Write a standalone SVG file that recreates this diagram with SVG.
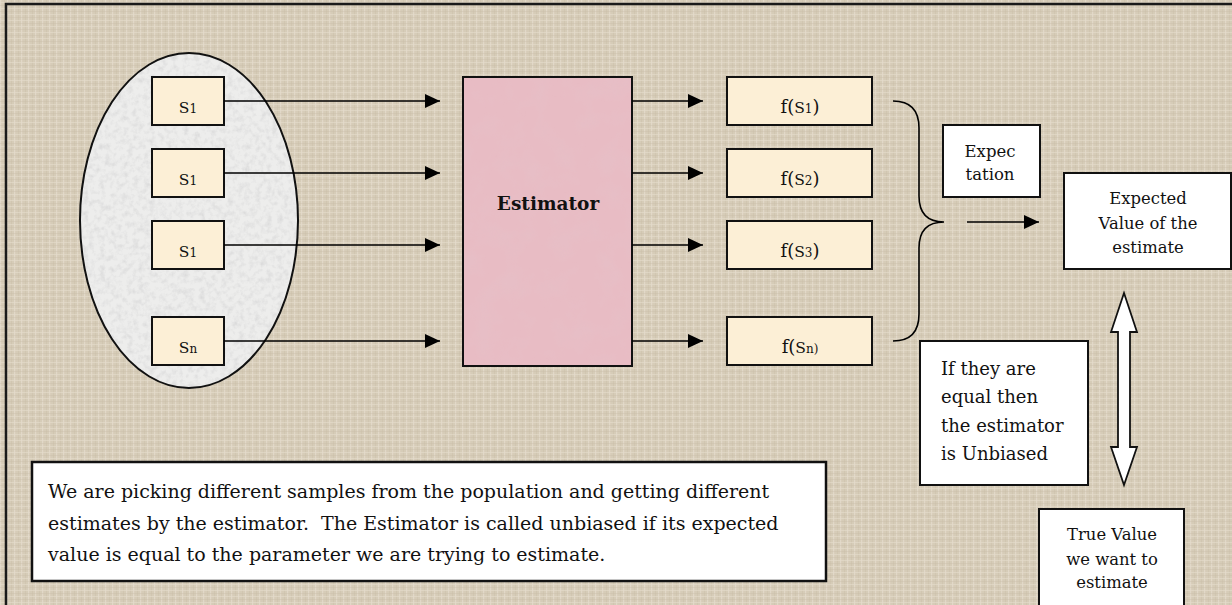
<svg xmlns="http://www.w3.org/2000/svg" width="1232" height="605" viewBox="0 0 1232 605">
  <defs>
    <!-- woven canvas texture for the page -->
    <pattern id="canvas" width="7" height="6" patternUnits="userSpaceOnUse">
      <rect width="7" height="6" fill="#D6CCB8"/>
      <rect x="0" y="0" width="1.2" height="6" fill="#E6DECF" opacity="0.7"/>
      <rect x="4" y="0" width="0.8" height="6" fill="#C9BEA8" opacity="0.5"/>
      <rect x="0" y="2" width="7" height="1" fill="#E4DCCB" opacity="0.6"/>
      <rect x="0" y="5" width="7" height="0.8" fill="#C8BDA6" opacity="0.45"/>
    </pattern>
    <!-- speckled granite for the population -->
    <filter id="granite" x="0" y="0" width="100%" height="100%">
      <feTurbulence type="fractalNoise" baseFrequency="0.18" numOctaves="3" seed="4" result="n"/>
      <feColorMatrix in="n" type="matrix" values="0 0 0 0 0.55  0 0 0 0 0.55  0 0 0 0 0.56  0.9 0 0 0 -0.38" result="s"/>
      <feComposite in="s" in2="SourceGraphic" operator="in"/>
    </filter>
    <!-- mottled pink paper for the estimator -->
    <filter id="mottle" x="0" y="0" width="100%" height="100%">
      <feTurbulence type="fractalNoise" baseFrequency="0.04" numOctaves="3" seed="9" result="n"/>
      <feColorMatrix in="n" type="matrix" values="0 0 0 0 0.78  0 0 0 0 0.55  0 0 0 0 0.6  0.7 0 0 0 -0.3" result="s"/>
      <feComposite in="s" in2="SourceGraphic" operator="in"/>
    </filter>
    <marker id="arrow" markerUnits="userSpaceOnUse" markerWidth="15" markerHeight="14" refX="15" refY="7" orient="auto">
      <path d="M0,0 L15,7 L0,14 Z" fill="#000"/>
    </marker>
    <style>
      .box { stroke: #111; stroke-width: 2; }
      .cream { fill: #FCEFD6; }
      .white { fill: #FFFFFF; }
      .serif { font-family: "DejaVu Serif", "Liberation Serif", serif; fill: #111; }
      .lbl { font-size: 15.5px; }
      .sub { font-size: 12px; }
      .fn { font-size: 18px; }
      .note { font-size: 16.5px; }
      .link { stroke: #000; stroke-width: 1.6; fill: none; }
    </style>
  </defs>

  <!-- page -->
  <rect width="1232" height="605" fill="url(#canvas)"/>
  <rect x="6" y="4" width="1240" height="620" fill="none" stroke="#1a1a1a" stroke-width="2.5"/>

  <!-- population of samples -->
  <g id="population">
    <ellipse cx="189" cy="220.5" rx="109" ry="167.5" fill="#EDEDEC"/>
    <ellipse cx="189" cy="220.5" rx="109" ry="167.5" fill="#fff" filter="url(#granite)"/>
    <ellipse cx="189" cy="220.5" rx="109" ry="167.5" fill="none" stroke="#111" stroke-width="2"/>
  </g>

  <g id="sample-1">
    <rect class="box cream" x="152" y="77" width="72" height="48"/>
    <text class="serif lbl" x="188" y="113" text-anchor="middle">S<tspan class="sub">1</tspan></text>
  </g>
  <g id="sample-2">
    <rect class="box cream" x="152" y="149" width="72" height="48"/>
    <text class="serif lbl" x="188" y="185" text-anchor="middle">S<tspan class="sub">1</tspan></text>
  </g>
  <g id="sample-3">
    <rect class="box cream" x="152" y="221" width="72" height="48"/>
    <text class="serif lbl" x="188" y="257" text-anchor="middle">S<tspan class="sub">1</tspan></text>
  </g>
  <g id="sample-n">
    <rect class="box cream" x="152" y="317" width="72" height="48"/>
    <text class="serif lbl" x="188" y="353" text-anchor="middle">S<tspan class="sub">n</tspan></text>
  </g>

  <g id="estimator">
    <rect x="463" y="77" width="169" height="289" fill="#E8BCC4"/>
    <rect x="463" y="77" width="169" height="289" fill="#fff" filter="url(#mottle)"/>
    <rect class="box" x="463" y="77" width="169" height="289" fill="none"/>
    <text class="serif" x="548" y="210" text-anchor="middle" font-size="18.5" font-weight="bold">Estimator</text>
  </g>

  <g id="estimate-1">
    <rect class="box cream" x="727" y="77" width="145" height="48"/>
    <text class="serif fn" x="800" y="113" text-anchor="middle">f(<tspan class="lbl">S</tspan><tspan class="sub">1</tspan>)</text>
  </g>
  <g id="estimate-2">
    <rect class="box cream" x="727" y="149" width="145" height="48"/>
    <text class="serif fn" x="800" y="185" text-anchor="middle">f(<tspan class="lbl">S</tspan><tspan class="sub">2</tspan>)</text>
  </g>
  <g id="estimate-3">
    <rect class="box cream" x="727" y="221" width="145" height="48"/>
    <text class="serif fn" x="800" y="257" text-anchor="middle">f(<tspan class="lbl">S</tspan><tspan class="sub">3</tspan>)</text>
  </g>
  <g id="estimate-n">
    <rect class="box cream" x="727" y="317" width="145" height="48"/>
    <text class="serif fn" x="800" y="353" text-anchor="middle">f(<tspan class="lbl">S</tspan><tspan class="sub">n)</tspan></text>
  </g>

  <g id="expectation">
    <rect class="box white" x="943" y="125" width="97" height="72"/>
    <text class="serif note" x="990" y="157" text-anchor="middle">Expec</text>
    <text class="serif note" x="990" y="180" text-anchor="middle">tation</text>
  </g>

  <g id="expected-value">
    <rect class="box white" x="1064" y="173" width="167" height="96"/>
    <text class="serif" x="1148" y="204" text-anchor="middle" font-size="16.4">Expected</text>
    <text class="serif" x="1148" y="229" text-anchor="middle" font-size="16.4">Value of the</text>
    <text class="serif" x="1148" y="253" text-anchor="middle" font-size="16.4">estimate</text>
  </g>

  <g id="unbiased-note">
    <rect class="box white" x="920" y="341" width="168" height="144"/>
    <text class="serif" x="941" y="375" font-size="18">If they are</text>
    <text class="serif" x="941" y="403" font-size="18">equal then</text>
    <text class="serif" x="941" y="432" font-size="18">the estimator</text>
    <text class="serif" x="941" y="460" font-size="18">is Unbiased</text>
  </g>

  <g id="true-value">
    <rect class="box white" x="1039" y="509" width="145" height="110"/>
    <text class="serif" x="1112" y="540" text-anchor="middle" font-size="16.4">True Value</text>
    <text class="serif" x="1112" y="565" text-anchor="middle" font-size="16.4">we want to</text>
    <text class="serif" x="1112" y="588" text-anchor="middle" font-size="16.4">estimate</text>
  </g>

  <g id="summary">
    <rect x="32" y="462" width="794" height="119" fill="#fff" stroke="#111" stroke-width="2.5"/>
    <text class="serif" font-size="19" xml:space="preserve">
      <tspan x="48" y="498">We are picking different samples from the population and getting different</tspan>
      <tspan x="48" y="529.5">estimates by the estimator.  The Estimator is called unbiased if its expected</tspan>
      <tspan x="48" y="561">value is equal to the parameter we are trying to estimate.</tspan>
    </text>
  </g>

  <g id="connectors">
    <!-- samples into the estimator -->
    <line class="link" x1="224" y1="101" x2="440" y2="101" marker-end="url(#arrow)"/>
    <line class="link" x1="224" y1="173" x2="440" y2="173" marker-end="url(#arrow)"/>
    <line class="link" x1="224" y1="245" x2="440" y2="245" marker-end="url(#arrow)"/>
    <line class="link" x1="224" y1="341" x2="440" y2="341" marker-end="url(#arrow)"/>
    <!-- estimator to each estimate -->
    <line class="link" x1="632" y1="101" x2="703" y2="101" marker-end="url(#arrow)"/>
    <line class="link" x1="632" y1="173" x2="703" y2="173" marker-end="url(#arrow)"/>
    <line class="link" x1="632" y1="245" x2="703" y2="245" marker-end="url(#arrow)"/>
    <line class="link" x1="632" y1="341" x2="703" y2="341" marker-end="url(#arrow)"/>
    <!-- brace gathering the estimates -->
    <path class="link" stroke-width="2" d="M893,101 Q919,101 919,128 L919,196 Q919,222 944,222 Q919,222 919,248 L919,314 Q919,341 893,341"/>
    <!-- expectation step -->
    <line class="link" x1="967" y1="222" x2="1039" y2="222" marker-end="url(#arrow)"/>
    <!-- comparison of expected and true value -->
    <path d="M1124,293 L1137,332 L1130,332 L1130,447 L1137,447 L1124,485 L1111,447 L1118,447 L1118,332 L1111,332 Z" fill="#fff" stroke="#111" stroke-width="1.8" stroke-linejoin="miter"/>
  </g>
</svg>
